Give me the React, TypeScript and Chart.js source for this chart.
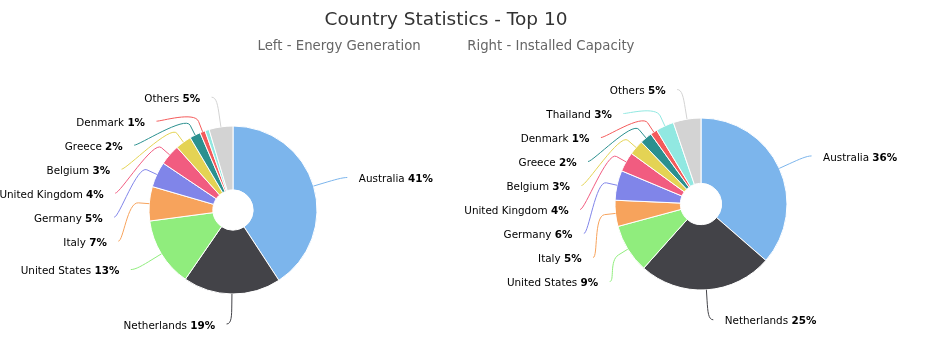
import React, { useEffect, useRef } from 'react';
import { Chart, registerables } from 'chart.js';

Chart.register(...registerables);

// ---------- data ----------
const chartTitle = 'Country Statistics - Top 10';
const subtitleLeft = 'Left - Energy Generation';
const subtitleRight = 'Right - Installed Capacity';

const countries = [
  'Australia',
  'Netherlands',
  'United States',
  'Italy',
  'Germany',
  'United Kingdom',
  'Belgium',
  'Greece',
  'Denmark',
  'Thailand',
  'Others',
];

// Left pie – energy generation (share, %)
const energyGeneration = [40.8, 18.8, 13.3, 6.6, 4.9, 4.0, 3.1, 2.1, 1.0, 0.8, 4.6];
// Right pie – installed capacity (share, %)
const installedCapacity = [36.4, 25.2, 9.2, 4.9, 5.6, 3.7, 2.8, 2.3, 1.3, 3.4, 5.2];

const sliceColors = [
  '#7cb5ec',
  '#434348',
  '#90ed7d',
  '#f7a35c',
  '#8085e9',
  '#f15c80',
  '#e4d354',
  '#2b908f',
  '#f45b5b',
  '#91e8e1',
  '#d3d3d3',
];

const FONT_FAMILY = '"DejaVu Sans", Verdana, sans-serif';
const LABEL_SIZE = 10.4;

// ---------- callout label plugin (Highcharts-like pie data labels) ----------
const calloutPlugin = {
  id: 'callouts',
  afterDatasetsDraw(chart: any, _args: any, opts: any) {
    const ctx: CanvasRenderingContext2D = chart.ctx;
    const meta = chart.getDatasetMeta(0);
    const ds = chart.data.datasets[0];
    const values: number[] = ds.data;
    const colors: string[] = ds.backgroundColor;
    const names: string[] = chart.data.labels;
    const total = values.reduce((a, b) => a + b, 0);
    const distance: number = opts.distance;
    const connectorOffset: number = opts.connectorOffset;
    const lineGap: number = opts.lineGap;

    const items: any[] = [];
    meta.data.forEach((arc: any, i: number) => {
      const p = arc.getProps(['x', 'y', 'startAngle', 'endAngle', 'outerRadius'], true);
      const pct = (values[i] / total) * 100;
      if (pct < opts.minPercent) return;
      const mid = (p.startAngle + p.endAngle) / 2;
      const R = p.outerRadius + distance;
      items.push({
        i,
        pct,
        mid,
        cx: p.x,
        cy: p.y,
        r: p.outerRadius,
        R,
        left: Math.cos(mid) < 0,
        y: p.y + Math.sin(mid) * R,
      });
    });

    for (const side of [true, false]) {
      const group = items.filter((it) => it.left === side).sort((a, b) => a.y - b.y);
      for (let k = 1; k < group.length; k++) {
        if (group[k].y < group[k - 1].y + lineGap) group[k].y = group[k - 1].y + lineGap;
      }
    }

    const normalFont = `${LABEL_SIZE}px ${FONT_FAMILY}`;
    const boldFont = `bold ${LABEL_SIZE}px ${FONT_FAMILY}`;

    ctx.save();
    for (const it of items) {
      const dir = it.left ? -1 : 1;
      const s = Math.max(-1, Math.min(1, (it.y - it.cy) / it.R));
      const px = it.cx + dir * Math.cos(Math.asin(s)) * it.R;
      const bx = it.cx + Math.cos(it.mid) * it.r;
      const by = it.cy + Math.sin(it.mid) * it.r;
      const kx = it.cx + Math.cos(it.mid) * (it.r + connectorOffset);
      const ky = it.cy + Math.sin(it.mid) * (it.r + connectorOffset);

      ctx.beginPath();
      ctx.moveTo(px + dir * 5, it.y);
      ctx.bezierCurveTo(px, it.y, 2 * kx - bx, 2 * ky - by, kx, ky);
      ctx.lineTo(bx, by);
      ctx.strokeStyle = colors[it.i];
      ctx.lineWidth = 1;
      ctx.stroke();

      const nameText = names[it.i] + ' ';
      const pctText = Math.round(it.pct) + '%';
      ctx.font = normalFont;
      const w1 = ctx.measureText(nameText).width;
      ctx.font = boldFont;
      const w2 = ctx.measureText(pctText).width;
      const edge = px + dir * 16.5;
      const startX = it.left ? edge - w1 - w2 : edge;
      ctx.textAlign = 'left';
      ctx.textBaseline = 'middle';
      ctx.fillStyle = '#000000';
      ctx.font = normalFont;
      ctx.fillText(nameText, startX, it.y + 2);
      ctx.font = boldFont;
      ctx.fillText(pctText, startX + w1, it.y + 2);
    }
    ctx.restore();
  },
};

const W = 950;
const H = 353;

function makeConfig(values: number[], radius: number, padding: any) {
  return {
    type: 'doughnut' as const,
    data: {
      labels: countries,
      datasets: [
        {
          data: values,
          backgroundColor: sliceColors,
          borderColor: '#ffffff',
          borderWidth: 1,
          radius,
        },
      ],
    },
    options: {
      animation: false,
      responsive: false,
      maintainAspectRatio: false,
      cutout: '24%',
      rotation: 0,
      layout: { padding },
      plugins: {
        legend: { display: false },
        tooltip: { enabled: false },
        title: { display: false },
        callouts: { distance: 30, connectorOffset: 11, lineGap: 24, minPercent: 1 },
      },
    },
    plugins: [calloutPlugin],
  };
}

export default function App() {
  const leftRef = useRef<HTMLCanvasElement>(null);
  const rightRef = useRef<HTMLCanvasElement>(null);

  useEffect(() => {
    const left = new Chart(
      leftRef.current as HTMLCanvasElement,
      makeConfig(energyGeneration, 84, { left: 149, right: 633, top: 126, bottom: 59 }) as any
    );
    const right = new Chart(
      rightRef.current as HTMLCanvasElement,
      makeConfig(installedCapacity, 86, { left: 615, right: 163, top: 118, bottom: 63 }) as any
    );
    return () => {
      left.destroy();
      right.destroy();
    };
  }, []);

  const canvasStyle: React.CSSProperties = {
    position: 'absolute',
    left: 0,
    top: 0,
    width: W,
    height: H,
  };

  return (
    <div
      style={{
        position: 'absolute',
        left: 0,
        top: 0,
        width: W,
        height: H,
        background: '#ffffff',
        overflow: 'hidden',
        fontFamily: FONT_FAMILY,
      }}
    >
      <canvas ref={leftRef} width={W} height={H} style={canvasStyle} />
      <canvas ref={rightRef} width={W} height={H} style={canvasStyle} />
      <div
        style={{
          position: 'absolute',
          left: 0,
          top: 9,
          width: 892,
          textAlign: 'center',
          fontSize: 18.5,
          lineHeight: '20px',
          color: '#333333',
        }}
      >
        {chartTitle}
      </div>
      <div
        style={{
          position: 'absolute',
          left: 0,
          top: 38,
          width: 892,
          textAlign: 'center',
          fontSize: 13.3,
          lineHeight: '16px',
          color: '#666666',
          whiteSpace: 'pre',
        }}
      >
        {subtitleLeft + '           ' + subtitleRight}
      </div>
    </div>
  );
}
